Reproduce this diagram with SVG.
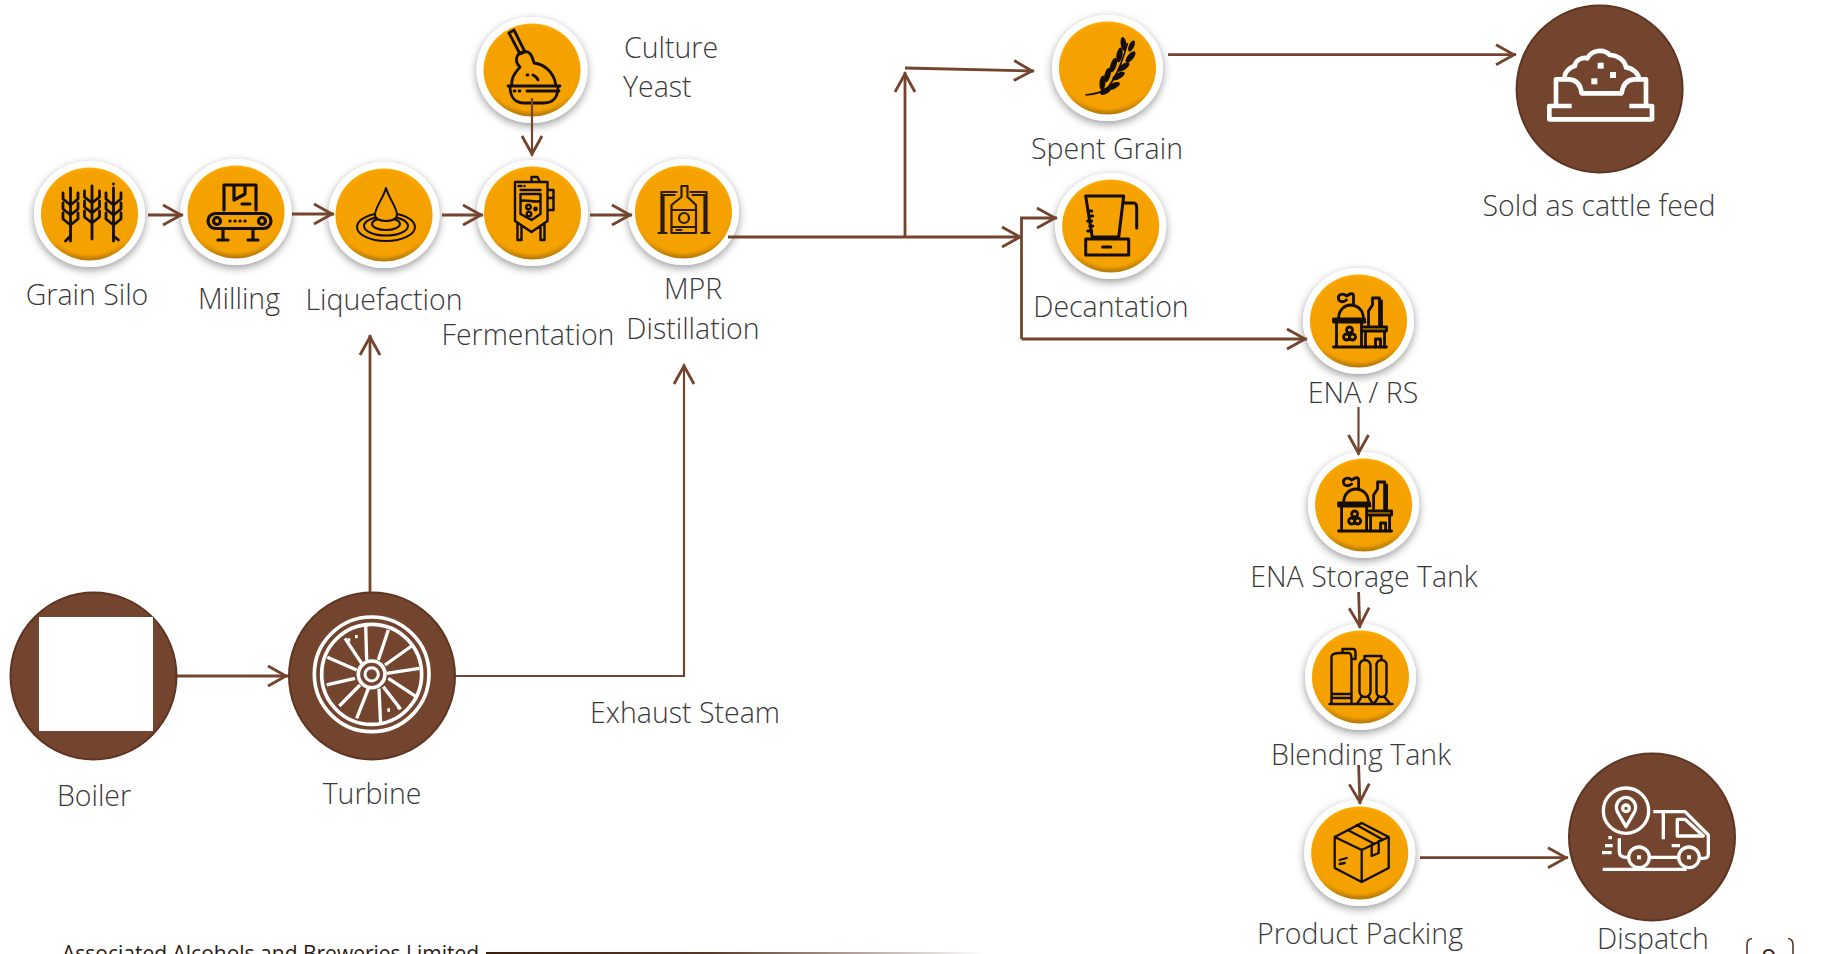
<svg xmlns="http://www.w3.org/2000/svg" xmlns:xlink="http://www.w3.org/1999/xlink" width="1841" height="954" viewBox="0 0 1841 954">
<style>
text{font-family:"Open Sans","Noto Sans","Liberation Sans",sans-serif;font-weight:300;font-size:28.5px;fill:#3a3a3a;text-anchor:middle}
.l{text-anchor:start}
.ic{fill:none;stroke:#140e06;stroke-width:2.8;stroke-linejoin:round;stroke-linecap:round}
.icf{fill:#140e06;stroke:none}
.wi{fill:none;stroke:#fff;stroke-width:10;stroke-linejoin:round}
.wf{fill:#fff;stroke:none}
.big{fill:#74452E;stroke:#5e3522;stroke-width:2}
.c{fill:none;stroke:#74452E;stroke-width:2.8}
.ca{marker-end:url(#arrow)}
.t{stroke-width:2.2}
</style>
<defs>
<marker id="arrow" markerUnits="userSpaceOnUse" markerWidth="26" markerHeight="26" refX="24" refY="13" orient="auto" overflow="visible">
<path d="M4,3 L22,13 L4,23" fill="none" stroke="#74452E" stroke-width="2.8"/>
</marker>
<filter id="sh" x="-25%" y="-25%" width="150%" height="150%"><feDropShadow dx="0" dy="3" stdDeviation="4" flood-color="#000" flood-opacity=".4"/></filter>
<filter id="bl" x="-10%" y="-10%" width="120%" height="120%"><feGaussianBlur stdDeviation="1.6"/></filter>
<linearGradient id="rim" x1="0" y1="0" x2="0" y2="1"><stop offset="0" stop-color="#FFAD00"/><stop offset=".78" stop-color="#EC9C00"/><stop offset="1" stop-color="#B87A08"/></linearGradient>
<linearGradient id="rule" x1="0" y1="0" x2="1" y2="0"><stop offset="0" stop-color="#3d1c10"/><stop offset=".45" stop-color="#5a3826"/><stop offset="1" stop-color="#fff"/></linearGradient>
<g id="disc">
<ellipse rx="55.5" ry="53" fill="#fff" filter="url(#sh)"/>
<ellipse rx="48.5" ry="46.5" fill="url(#rim)"/>
<ellipse cy="-1" rx="46.5" ry="43.5" fill="#F5A100" filter="url(#bl)"/>
</g>
<path id="stalk" d="M0,-26V27M-7.5,-21V-15L0,-9M7.5,-21V-15L0,-9M-7.5,-11V-5L0,1M7.5,-11V-5L0,1M-7.5,-1V5L0,11M7.5,-1V5L0,11"/>
<g id="factory" class="ic">
<path d="M-25,1H6.5M-25,1V-2H6V1M-22,1V26M3,1V26M-25,26H28"/>
<path d="M-20,-2C-20,-12 -13,-16 -8,-16C-2,-16 5,-12 5,-2"/>
<path d="M-5,-16V-25C-5,-29 -9,-27 -12,-25C-16,-29 -21,-26 -20,-22C-19,-18 -14,-19 -12,-21"/>
<path d="M10,4V-10L14,-16V-23H21V4M23,-20V4"/>
<path d="M5,6H28V10H5M7,10V26M26,10V26M17,26V18H22V26"/>
<path d="M-9,12a3,3 0 1 1 0.1,0M-12,19a3,3 0 1 1 0.1,0M-6,19a3,3 0 1 1 0.1,0"/>
</g>
</defs>

<g id="grain-silo"><use href="#disc" x="89.5" y="214"/>
<g transform="translate(89.5 214)" class="ic"><use href="#stalk" x="-19"/><use href="#stalk" x="2.5" y="-2"/><use href="#stalk" x="24"/><path d="M24,-30v.1M-24,27L-19,22M29,26L24,22"/></g>
<text x="87" y="305">Grain Silo</text></g>

<g id="milling"><use href="#disc" x="236" y="212"/>
<g transform="translate(236 212)" class="ic" style="stroke-width:3.2"><path d="M-12,-2V-27H20V-2M-2,-27V-12L9,-18V-27M6,-8H14"/><rect x="-28" y="1.5" width="63" height="15" rx="7.5"/><circle cx="-19" cy="9" r="3.5"/><circle cx="26" cy="9" r="3.5"/><path d="M-6,9h.1M-1,9h.1M4,9h.1M9,9h.1M-13,17V28M17,17V28M-18,28H-8M12,28H22"/></g>
<text x="239" y="309">Milling</text></g>

<g id="liquefaction"><use href="#disc" x="384" y="215"/>
<g transform="translate(386 215)" class="ic" style="stroke-width:2"><ellipse cy="12" rx="29" ry="14"/><ellipse cy="11" rx="22" ry="9.5"/><ellipse cy="9" rx="14" ry="6"/><path d="M0,-27C-3,-16 -11,-8 -11,0C-11,8 11,8 11,0C11,-8 3,-16 0,-27Z" fill="#F5A100"/></g>
<text x="384" y="310">Liquefaction</text></g>

<g id="fermentation"><use href="#disc" x="532.5" y="213"/>
<g transform="translate(532.5 213)" class="ic" style="stroke-width:2.4"><path d="M-17.5,-31H15V8L-1,19L-17.5,8ZM-1,-31V-36H5L7.5,-31M15,-23H21V-3H15M15,-15H21M-12,-23H8M-12,-19H8V1L-1,7L-12,1ZM-12,-12C-6,-14 2,-10 8,-12M-15,10V27H-11V13M8,13V27H12V10M-14,-27h3M-8,-27h.1"/><circle cx="-4" cy="-6" r="2.3"/><circle cx="-3.5" cy="1" r="2.3"/><circle cx="3" cy="-4" r="1.2"/></g>
<text x="528" y="345">Fermentation</text></g>

<g id="mpr-distillation"><use href="#disc" x="683.5" y="212"/>
<g transform="translate(683.5 212)" class="ic" style="stroke-width:2.2;stroke:#2b1c08"><path d="M-2,-26H4V-15L12.5,-7V21H-12V-7L-2,-15ZM-12,-2H12.5M-12,15H12.5"/><circle cx="0.5" cy="6" r="5"/><path d="M-22,20V-20H-7M-20,20V-17H-9M23,20V-20H7M21,20V-17H9M-25,21H-17M18,21H26M-7,18h5"/></g>
<text x="693" y="298.500">MPR</text><text x="693" y="338.500">Distillation</text></g>

<g id="culture-yeast"><use href="#disc" x="532" y="70"/>
<g transform="translate(532 70)" class="ic"><path d="M-23,-37L-18,-40L-7,-18L-12,-16ZM-24,16H28M-22,16C-22,28 -16,33 -8,33H12C22,33 26,26 26,17M-20,16C-22,6 -14,0 -12,-3C-18,-8 -16,-18 -8,-18C-3,-20 0,-15 2,-7C10,-6 22,0 24,16M-5,5h1M1,5C3,6 5,7 6,10M-18,21h1M-13,21h1M-5,21H27"/></g>
<text class="l" x="624" y="58">Culture</text><text class="l" x="623" y="96.500">Yeast</text></g>

<g id="spent-grain"><use href="#disc" x="1107.5" y="68"/>
<g transform="translate(1107.5 68)"><path d="M-22,27Q-8,26 0,20Q12,5 20,-25" fill="none" stroke="#140e06" stroke-width="1.6"/>
<g class="icf"><ellipse cx="-2" cy="23" rx="3" ry="6" transform="rotate(60 -2 23)"/><ellipse cx="-5" cy="15" rx="3" ry="7.5" transform="rotate(5 -5 15)"/><ellipse cx="6" cy="18" rx="3" ry="7" transform="rotate(65 6 18)"/><ellipse cx="0" cy="7" rx="3" ry="7.5" transform="rotate(15 0 7)"/><ellipse cx="11" cy="8" rx="3" ry="7" transform="rotate(60 11 8)"/><ellipse cx="6" cy="-3" rx="3" ry="7.5" transform="rotate(18 6 -3)"/><ellipse cx="16" cy="-1" rx="3" ry="7" transform="rotate(55 16 -1)"/><ellipse cx="12" cy="-13" rx="3" ry="7.5" transform="rotate(10 12 -13)"/><ellipse cx="23" cy="-11" rx="3" ry="7" transform="rotate(40 23 -11)"/><ellipse cx="16" cy="-24" rx="2.8" ry="7" transform="rotate(-8 16 -24)"/><ellipse cx="24" cy="-22" rx="2.6" ry="6" transform="rotate(25 24 -22)"/></g></g>
<text x="1107" y="158.500">Spent Grain</text></g>

<g id="decantation"><use href="#disc" x="1110.7" y="226"/>
<g transform="translate(1110.7 226)" class="ic" style="stroke-width:3"><path d="M-25,-30H13L8,11H-18.5ZM13,-23H23C26,-23 26,-20 26,-18V2M-25,13H18V29H-25ZM-8,21H0M-23,-15h4M-21,-10h3M-23,-5h4M-21,0h3M-23,5h4" /></g>
<text x="1111" y="316.500">Decantation</text></g>

<g id="ena-rs"><use href="#disc" x="1358.5" y="321"/><use href="#factory" x="1358.5" y="321"/>
<text x="1363" y="402.500">ENA / RS</text></g>

<g id="ena-storage-tank"><use href="#disc" x="1363.6" y="505"/><use href="#factory" x="1363.6" y="505"/>
<text x="1364" y="586.500">ENA Storage Tank</text></g>

<g id="blending-tank"><use href="#disc" x="1360.5" y="677"/>
<g transform="translate(1360.5 677)" class="ic" style="stroke-width:2.4"><path d="M-29,26V-20Q-29,-24 -20,-24H-12Q-9,-24 -9,-18V26M-18,-24V-28H-7Q-5,-28 -5,-24V-18H-9M-29,17H-9M-29,21H-9M-31,27H32"/><rect x="-1" y="-17" width="11" height="37" rx="5.5"/><rect x="16" y="-17" width="10" height="37" rx="5"/><path d="M4,-17V-21H21V-17M1,20L-3,26M8,20L12,26M18,20L14,26M24,20L29,26"/></g>
<text x="1361" y="765">Blending Tank</text></g>

<g id="product-packing"><use href="#disc" x="1359.7" y="853"/>
<g transform="translate(1359.7 853)" class="ic" style="stroke-width:2.3"><path d="M2,-30L29,-16V15L2,29L-25,15V-16ZM-25,-16L2,-3L29,-16M2,-3V29M-12,-23L15,-9M-3,-28L22,-14M12,-8V3L19,0V-12M-20,7l7,-2M-20,11l5,-1"/></g>
<text x="1360" y="944">Product Packing</text></g>

<g id="sold-cattle-feed"><ellipse class="big" cx="1599.6" cy="89" rx="83" ry="83.5"/>
<g transform="translate(1530 30) scale(.3333)"><path class="wi" style="stroke-width:14" d="M125,228H58V268H366V228H298M78,225V148H118Q150,150 155,190H275Q280,150 312,148H348V225M105,145C100,130 120,110 135,108C135,90 160,80 172,85C185,60 220,55 240,75C260,75 285,90 288,112C310,115 325,130 328,148"/><rect class="wf" x="203" y="98" width="18" height="18"/><rect class="wf" x="240" y="126" width="18" height="18"/><rect class="wf" x="184" y="145" width="18" height="18"/></g>
<text x="1599" y="216">Sold as cattle feed</text></g>

<g id="boiler"><ellipse class="big" cx="93.5" cy="676" rx="83" ry="83.5"/><rect x="39" y="617" width="114" height="114" fill="#fff"/>
<text x="94" y="806">Boiler</text></g>

<g id="turbine"><ellipse class="big" cx="372" cy="676" rx="83" ry="83.5"/>
<g transform="translate(300 610) scale(.3333)" fill="none" stroke="#fff" stroke-width="11"><circle cx="215" cy="193" r="172"/><circle cx="215" cy="193" r="150"/><circle cx="215" cy="193" r="40"/><circle cx="215" cy="193" r="20" stroke-width="9"/><path d="M200,150L197,45M235,150L265,60M255,165L335,108M260,190L358,175M265,205L352,262M250,230L302,298M237,236L242,343M205,236L170,325M180,225L118,288M165,205L80,225M170,180L82,142M185,160L135,85" stroke-width="10"/><path d="M143,90h8M165,80h8M262,300h8M292,293h8" stroke-width="10"/></g>
<text x="372" y="804">Turbine</text></g>

<g id="dispatch"><ellipse class="big" cx="1652" cy="837" rx="83" ry="83.5"/>
<g transform="translate(1590 780) scale(.3333)"><g class="wi"><circle cx="108" cy="92" r="68"/><path d="M108,140L82,95C72,70 92,52 108,52C124,52 144,70 134,95Z"/><circle cx="108" cy="85" r="10"/><path d="M190,95H285L355,165V222Q355,235 340,235H328M220,95V178M262,118H285L340,168H262ZM88,175V215Q88,232 110,232H116M180,232H262M38,268H290M245,197H270M55,173H66M45,197H68M36,218H65"/><circle cx="147" cy="232" r="31"/><circle cx="297" cy="232" r="31"/></g><rect class="wf" x="141" y="226" width="12" height="12"/><rect class="wf" x="291" y="226" width="12" height="12"/></g>
<text x="1653" y="949">Dispatch</text></g>

<g id="exhaust-steam-label"><text x="685" y="723">Exhaust Steam</text></g>

<g id="connectors">
<path class="c ca" d="M148,215H183"/>
<path class="c ca" d="M292,214H334"/>
<path class="c ca" d="M442,215H483"/>
<path class="c ca" d="M590,215H632"/>
<path class="c ca t" d="M532,98V156"/>
<path class="c ca" d="M728,237H1022"/>
<path class="c ca" d="M905,237V72"/>
<path class="c ca" d="M905,68L1034,71"/>
<path class="c ca" d="M1021.5,339V218H1057"/>
<path class="c ca" d="M1021.5,339H1307"/>
<path class="c ca" d="M1168,54.7H1516"/>
<path class="c ca t" d="M1358.5,407V455"/>
<path class="c ca" d="M1358.6,592L1359.8,628"/>
<path class="c ca" d="M1358.6,765L1360,804"/>
<path class="c ca" d="M1420,857.7H1568"/>
<path class="c ca" d="M177,676H288"/>
<path class="c ca" d="M370,592V335"/>
<path class="c ca t" d="M456,676H684V364"/>
</g>

<g id="footer">
<text x="62" y="961" style="text-anchor:start;font-size:21px;font-weight:400;fill:#2b1a12">Associated Alcohols and Breweries Limited</text>
<rect x="486" y="952" width="498" height="2" fill="url(#rule)"/>
<path d="M1752,938.5Q1747,939 1747,945V954M1788,938.5Q1793,939 1793,945V954" fill="none" stroke="#5a3826" stroke-width="1.6"/>
<text x="1769" y="967" style="font-size:26px;font-weight:400;fill:#3d2216">9</text>
</g>
</svg>
